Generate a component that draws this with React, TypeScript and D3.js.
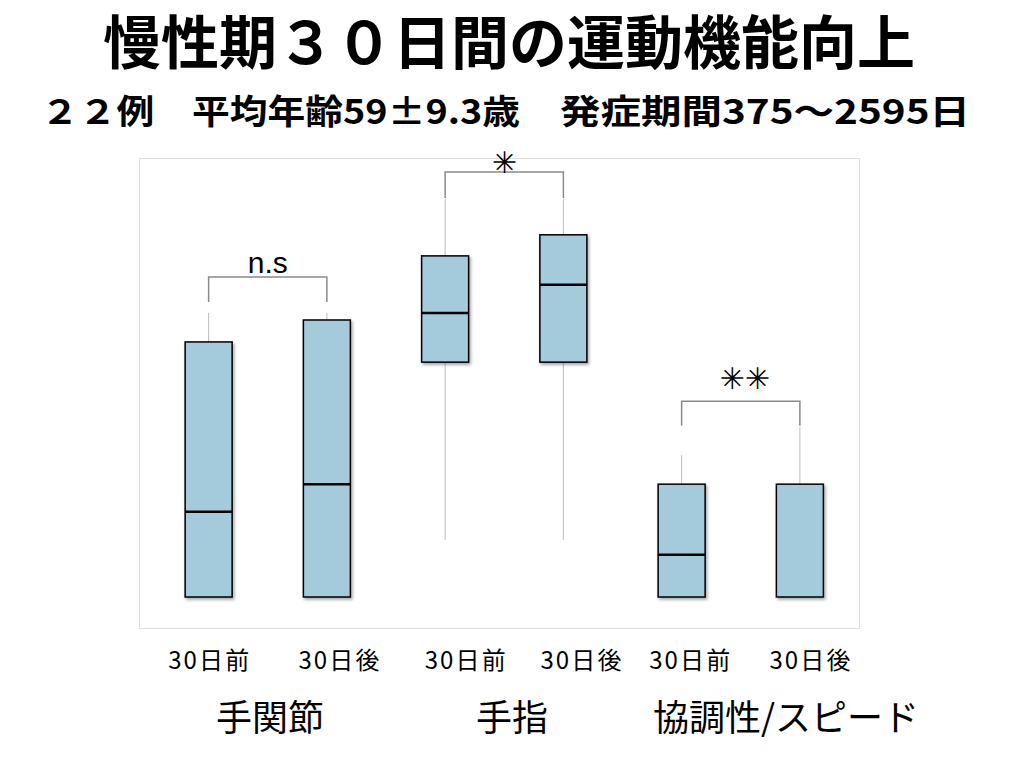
import React from "react";
import * as d3 from "d3";

// ---- data ----
const categories = ["30日前", "30日後", "30日前", "30日後", "30日前", "30日後"];
const groups = ["手関節", "手指", "協調性/スピード"];
const whiskerLow = [0, 0, 13.0, 13.0, 0, 0];
const q1 = [0, 0, 53.5, 53.5, 0, 0];
const median = [19.4, 25.7, 64.7, 71.1, 9.6, 0];
const q3 = [58.1, 63.1, 77.7, 82.5, 25.7, 25.7];
const whiskerHigh = [64.7, 64.7, 90.7, 90.7, 32.3, 38.7];

const bracketPairs = [[0, 1], [2, 3], [4, 5]];
const bracketTop = [72.9, 96.8, 44.6];
const bracketLeg = [67.2, 90.9, 39.0];
const bracketLabels = ["n.s", "\u2733\uFE0E", "\u2733\uFE0E\u2733\uFE0E"];

const title = "慢性期３０日間の運動機能向上";
const subtitleLeft = "２２例　平均年齢59±9.3歳";
const subtitleRight = "発症期間375〜2595日";

// ---- layout ----
const W = 1024;
const H = 768;
const frame = { x: 139.5, y: 158.5, w: 720, h: 470 };
const catLabelShift = [0, 12, 20, 17.5, 8, 10];
const groupLabelX = [270, 512, 786];
const bracketLabelDy = [-4, 1, -12];
const FONT = "'Noto Sans CJK JP', 'Noto Sans', sans-serif";

export default function App() {
  const idx = categories.map((_, i) => i);
  const x = d3.scaleBand<number>().domain(idx).range([149.5, 859]).paddingInner(0);
  const y = d3.scaleLinear().domain([0, 100]).range([597, 158]);
  const bw = 47;
  const cx = (i: number) => (x(i) as number) + x.bandwidth() / 2;

  return (
    <div style={{ position: "absolute", left: 0, top: 0 }}>
      <svg width={W} height={H} style={{ display: "block", background: "#fff" }} fontFamily={FONT}>
        <defs>
          <filter id="shadow" x="-20%" y="-20%" width="140%" height="140%">
            <feDropShadow dx="1.5" dy="2" stdDeviation="1.5" floodColor="#000" floodOpacity="0.35" />
          </filter>
        </defs>

        <text x={509} y={64} textAnchor="middle" fontSize={58} fontWeight={700}>
          {title}
        </text>
        <text x={41} y={124} fontSize={34} fontWeight={700} textLength={479} lengthAdjust="spacingAndGlyphs">
          {subtitleLeft}
        </text>
        <text x={560} y={124} fontSize={34} fontWeight={700} textLength={410} lengthAdjust="spacingAndGlyphs">
          {subtitleRight}
        </text>

        <rect x={frame.x} y={frame.y} width={frame.w} height={frame.h} fill="none" stroke="#dcdcdc" strokeWidth={1} />

        {idx.map((i) => (
          <g key={"b" + i}>
            <line x1={cx(i)} x2={cx(i)} y1={y(whiskerHigh[i])} y2={y(q3[i])} stroke="#bdbdbd" strokeWidth={1} />
            <line x1={cx(i)} x2={cx(i)} y1={y(q1[i])} y2={y(whiskerLow[i])} stroke="#bdbdbd" strokeWidth={1} />
            <rect
              x={cx(i) - bw / 2}
              y={y(q3[i])}
              width={bw}
              height={y(q1[i]) - y(q3[i])}
              fill="#a3cbdb"
              stroke="#000"
              strokeWidth={1.5}
              filter="url(#shadow)"
            />
            {median[i] > q1[i] && (
              <line x1={cx(i) - bw / 2} x2={cx(i) + bw / 2} y1={y(median[i])} y2={y(median[i])} stroke="#000" strokeWidth={2.5} />
            )}
          </g>
        ))}

        {bracketPairs.map(([a, b], k) => {
          const xa = cx(a);
          const xb = cx(b);
          const yt = y(bracketTop[k]);
          const yl = y(bracketLeg[k]);
          return (
            <g key={"br" + k}>
              <path d={`M${xa},${yl}V${yt}H${xb}V${yl}`} fill="none" stroke="#8a8a8a" strokeWidth={1.5} />
              <text
                x={(xa + xb) / 2 + (k === 2 ? 4 : 0)}
                y={yt + bracketLabelDy[k]}
                textAnchor="middle"
                fontSize={k === 0 ? 30 : 30}
                fontFamily={k === 0 ? "'Liberation Sans', Arial, sans-serif" : "'DejaVu Sans', sans-serif"}
                fill="#000"
              >
                {bracketLabels[k]}
              </text>
            </g>
          );
        })}

        {categories.map((c, i) => (
          <text key={"c" + i} x={cx(i) + catLabelShift[i]} y={669} textAnchor="middle" fontSize={24} textLength={81} lengthAdjust="spacing">
            {c}
          </text>
        ))}

        {groups.map((g, k) => (
          <text key={"g" + k} x={groupLabelX[k]} y={731} textAnchor="middle" fontSize={36}>
            {g}
          </text>
        ))}
      </svg>
    </div>
  );
}
